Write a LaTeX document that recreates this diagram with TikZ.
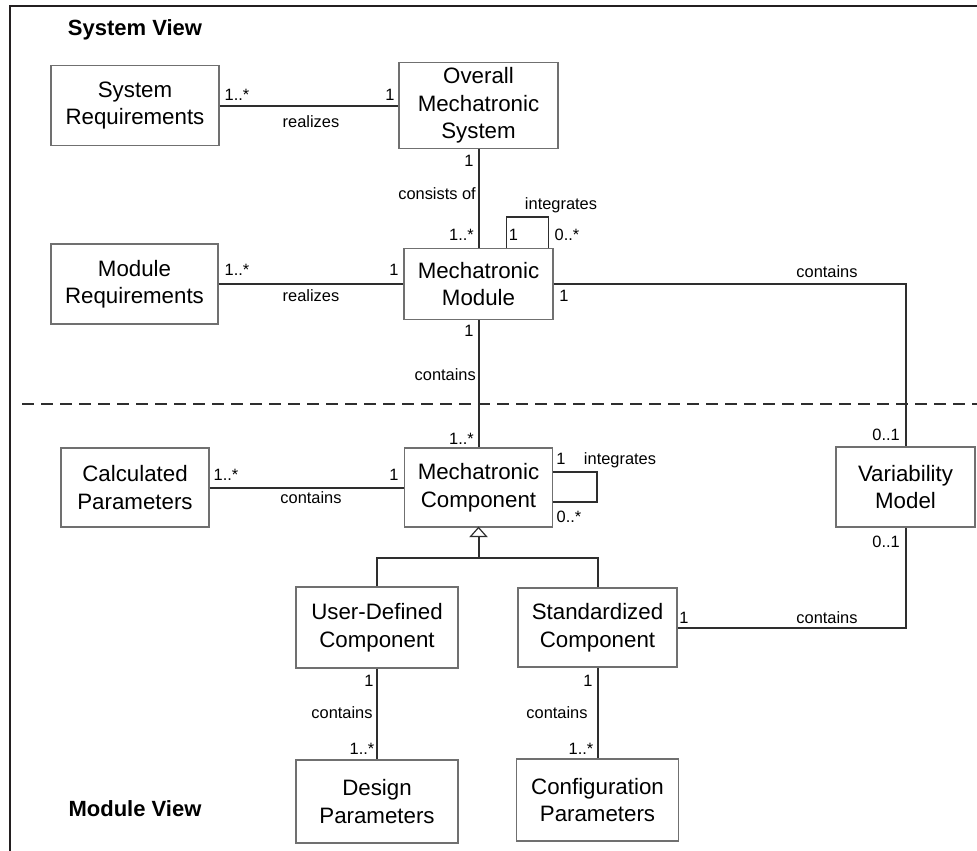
\documentclass[tikz,border=0pt]{standalone}
\usepackage{fontspec}
\setmainfont{Liberation Sans}
\usetikzlibrary{calc}
\definecolor{boxgray}{HTML}{707070}
\definecolor{linegray}{HTML}{2E2E2E}
\definecolor{framecol}{HTML}{231F20}
\begin{document}
\begin{tikzpicture}[x=1pt,y=-1pt,
  cls/.style={draw=boxgray, line width=1.1pt, fill=white, align=center,
    inner sep=0pt, font=\fontsize{22.3}{27.5}\selectfont},
  lbl/.style={inner sep=0pt, text height=11.7pt, text depth=0pt,
    font=\fontsize{16.4}{18}\selectfont},
  viewtitle/.style={inner sep=0pt, font=\bfseries\fontsize{22}{26}\selectfont},
  assoc/.style={draw=linegray, line width=2pt},
  divider/.style={draw=linegray, line width=2pt, dash pattern=on 12pt off 7pt}]

\useasboundingbox (0,0) rectangle (977,851);

% frame
\draw[framecol, line width=2.6pt] (10,851) -- (10,6) -- (977,6);

% view titles
\node[viewtitle] (sysview) at (135,30) {System View};
\node[viewtitle] (modview) at (135,809) {Module View};

% separator between the views
\coordinate (divL) at (22,404);
\coordinate (divR) at (977,404);
\draw[divider] (divL) -- (divR);

% classes
\node[cls, minimum width=168pt, minimum height=80pt] (sysreq)  at (135,105.5) {System\\Requirements};
\node[cls, minimum width=159pt, minimum height=86pt] (overall) at (478.5,105.5) {Overall\\Mechatronic\\System};
\node[cls, minimum width=167pt, minimum height=80pt] (modreq)  at (134.5,284) {Module\\Requirements};
\node[cls, minimum width=149pt, minimum height=71pt] (module)  at (478.5,284) {Mechatronic\\Module};
\node[cls, minimum width=148pt, minimum height=79pt] (calc)    at (135,487.5) {Calculated\\Parameters};
\node[cls, minimum width=148pt, minimum height=79pt] (comp)    at (478.5,487.5) {Mechatronic\\Component};
\node[cls, minimum width=139pt, minimum height=80pt] (var)     at (905.5,487) {Variability\\Model};
\node[cls, minimum width=162pt, minimum height=81pt] (udc)     at (377,627.5) {User-Defined\\Component};
\node[cls, minimum width=159pt, minimum height=79pt] (std)     at (597.5,627.5) {Standardized\\Component};
\node[cls, minimum width=162pt, minimum height=83pt] (design)  at (377,801.5) {Design\\Parameters};
\node[cls, minimum width=162pt, minimum height=82pt] (config)  at (597.5,800) {Configuration\\Parameters};

% associations
\draw[assoc] (sysreq.east) -- (sysreq.east -| overall.west);
\draw[assoc] (overall.south) -- (module.north);
\draw[assoc] (modreq.east) -- (modreq.east -| module.west);
\draw[assoc] (module.south) -- (comp.north);
\draw[assoc] (module.east) -| (var.north);
\draw[assoc] (calc.east) -- (calc.east -| comp.west);
\draw[assoc] (std.east) -| (var.south);
\draw[assoc] (udc.south) -- (design.north);
\draw[assoc] (std.south) -- (config.north);

% self associations
\coordinate (mloopA) at ($(module.north west)+(103,0)$);
\coordinate (mloopB) at ($(module.north west)+(145,0)$);
\draw[draw=linegray, line width=1.2pt] (mloopA) -- ++(0,-31) -| (mloopB);
\coordinate (cloopA) at ($(comp.east)+(0,-15.5)$);
\coordinate (cloopB) at ($(comp.east)+(0,14.5)$);
\draw[draw=linegray, line width=1.2pt] (cloopA) -- ++(44,0) |- (cloopB);

% generalization
\draw[draw=linegray, line width=1.2pt, fill=white] (comp.south) -- ++(-8,9) -- ++(16,0) -- cycle;
\coordinate (genbase) at ($(comp.south)+(0,9)$);
\coordinate (fork) at ($(comp.south)+(0,30)$);
\draw[assoc] (genbase) -- (fork);
\draw[assoc] (udc.north) |- (fork) -| (std.north);

% multiplicities and role names
\node[lbl] (l1)  at (237,95) {1..*};
\node[lbl] (l2)  at (390,95) {1};
\node[lbl] (l3)  at (311,122) {realizes};
\node[lbl] (l4)  at (469,161) {1};
\node[lbl, anchor=east] (l5) at (476,194) {consists of};
\node[lbl, anchor=east] (l6) at (474,235) {1..*};
\node[lbl] (l7)  at (513.5,235) {1};
\node[lbl] (l8)  at (567,235) {0..*};
\node[lbl] (l9)  at (561,204) {integrates};
\node[lbl] (l10) at (237,270) {1..*};
\node[lbl] (l11) at (394,270) {1};
\node[lbl] (l12) at (311,296) {realizes};
\node[lbl] (l13) at (827,272) {contains};
\node[lbl] (l14) at (564,296) {1};
\node[lbl] (l15) at (469,331) {1};
\node[lbl, anchor=east] (l16) at (476,375) {contains};
\node[lbl, anchor=east] (l17) at (474,439) {1..*};
\node[lbl, anchor=east] (l18) at (900,435) {0..1};
\node[lbl] (l19) at (226,475) {1..*};
\node[lbl] (l20) at (394,475) {1};
\node[lbl] (l21) at (311,498) {contains};
\node[lbl] (l22) at (561,459) {1};
\node[lbl] (l23) at (620,459) {integrates};
\node[lbl] (l24) at (569,517) {0..*};
\node[lbl, anchor=east] (l25) at (900,542) {0..1};
\node[lbl] (l26) at (684,618) {1};
\node[lbl] (l27) at (827,618) {contains};
\node[lbl] (l28) at (369,681) {1};
\node[lbl] (l29) at (342,713) {contains};
\node[lbl] (l30) at (362,749) {1..*};
\node[lbl] (l31) at (588,681) {1};
\node[lbl] (l32) at (557,713) {contains};
\node[lbl] (l33) at (581,749) {1..*};
\end{tikzpicture}
\end{document}
